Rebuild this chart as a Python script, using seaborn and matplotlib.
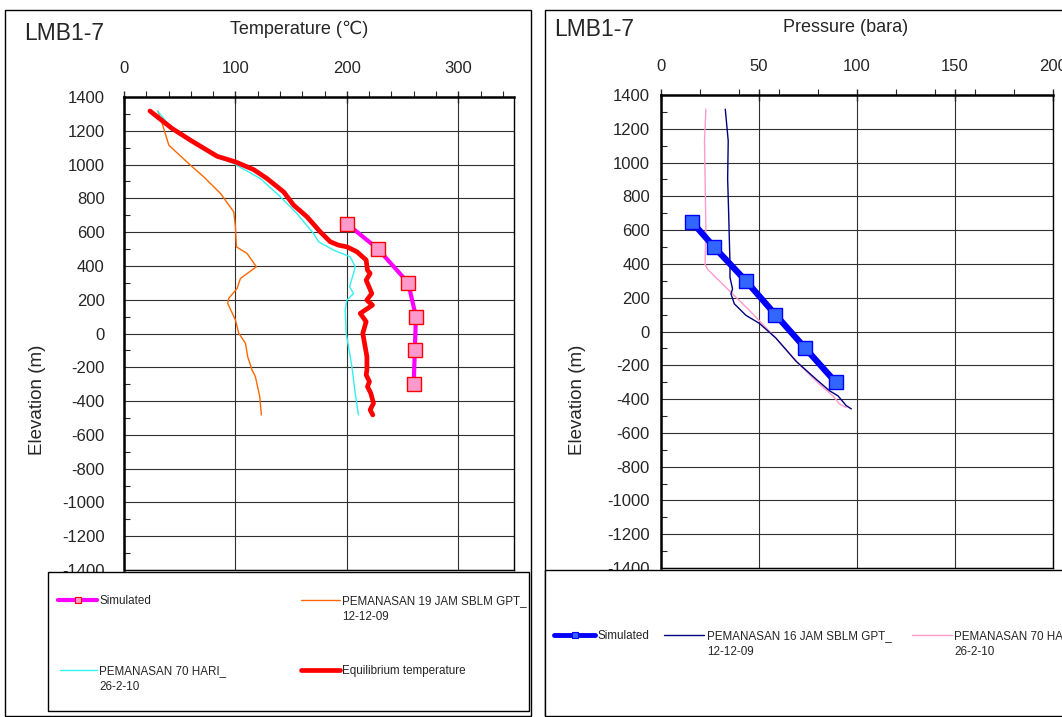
import matplotlib
matplotlib.use("Agg")
import matplotlib.pyplot as plt
import seaborn as sns
from matplotlib.lines import Line2D
from matplotlib.patches import Rectangle
from matplotlib.ticker import MultipleLocator

sns.set_style("white")
plt.rcParams["font.family"] = ["Liberation Sans", "DejaVu Sans"]
plt.rcParams["axes.unicode_minus"] = False

# ---------------- data ----------------
# Temperature panel
sim_t_elev = [650, 500, 300, 100, -100, -300]
sim_t_temp = [200, 228, 255, 262, 261, 260]

eq_elev = [1317, 1213, 1144, 1049, 1016, 970, 917, 838, 760, 691, 602, 543, 523, 513,
           484, 435, 375, 356, 316, 237, 198, 168, 119, 70, 1, -78, -137, -216, -245,
           -285, -314, -354, -413, -452, -482]
eq_temp = [23.3, 43.3, 59.7, 83.6, 100, 116.4, 128.4, 143.3, 152.2, 164.2, 176.1, 185.1,
           192.5, 200, 209, 217.3, 218.5, 220.9, 217.3, 222.4, 217.9, 223, 212, 217.3,
           214.3, 216.4, 218, 218, 217.3, 220.3, 218.5, 221.5, 223.9, 220.9, 223.3]

h70_elev = [1317, 1223, 1144, 1045, 1006, 917, 809, 710, 592, 543, 494, 454, 395, 356,
            277, 237, 198, 139, 1, -137, -196, -354, -482]
h70_temp = [30, 41.8, 59.7, 83.6, 98.5, 122.4, 140.3, 155.2, 170.1, 174.6, 188, 203,
            207.5, 206, 202.4, 206, 200, 198.5, 199.4, 203, 204.5, 207.5, 210.4]

j19_elev = [1317, 1242, 1114, 996, 927, 829, 720, 632, 513, 474, 395, 326, 267, 208,
            178, 80, 1, -58, -137, -216, -255, -373, -482]
j19_temp = [30.4, 34.3, 40.3, 59.7, 71.6, 86.6, 98.5, 100, 100.9, 110.4, 118.8, 104.5,
            101.5, 94, 93.1, 100, 103, 109, 111, 114.9, 117.9, 121.8, 123.3]

# Pressure panel
sim_p_elev = [650, 500, 300, 100, -100, -300]
sim_p_pres = [15.7, 27.1, 43.3, 58.4, 73.7, 89.1]

j16_elev = [1316, 1128, 904, 709, 398, 320, 252, 223, 164, 96, 48, -40, -176, -283,
            -351, -381, -439, -458]
j16_pres = [32.8, 34.3, 34.0, 34.5, 35.2, 35.2, 36.5, 35.7, 37.4, 43.3, 50.2, 58.7,
            68.9, 79.2, 86.0, 90.3, 94.5, 97.1]

p70_elev = [1316, 1128, 904, 612, 398, 369, 300, 223, 125, -40, -196, -313, -381, -429, -449]
p70_pres = [22.9, 22.2, 22.5, 22.9, 22.5, 23.7, 29.7, 36.5, 45.1, 58.7, 70.6, 80.9,
            87.7, 91.1, 94.5]

temp_ticks = [0, 100, 200, 300]
pres_ticks = [0, 50, 100, 150, 200]

# ---------------- figure ----------------
W, H = 1062, 717
fig = plt.figure(figsize=(W / 100, H / 100), dpi=100)


def fx(px):
    return px / W


def fy(py):
    return 1 - py / H


def box(x0, y0, x1, y1, lw=1.0, fc=None, z=0.5):
    fig.add_artist(Rectangle((fx(x0), fy(y1)), fx(x1) - fx(x0), fy(y0) - fy(y1),
                             transform=fig.transFigure, fill=fc is not None,
                             facecolor=fc if fc else "none", edgecolor="black",
                             lw=lw, zorder=z))


# outer panel borders
box(5, 10, 531, 716, lw=1.0, z=-1)
box(545, 10, 1070, 716, lw=1.0, z=-1)

axL = fig.add_axes([fx(124), fy(570), fx(514) - fx(124), fy(97) - fy(570)])
axR = fig.add_axes([fx(661), fy(568), fx(1053) - fx(661), fy(95) - fy(568)])

TFS = 12


def style(ax, xmax, ticks, xminor, ypad):
    ax.set_xlim(0, xmax)
    ax.set_ylim(-1400, 1400)
    ax.set_xticks(ticks)
    ax.xaxis.set_minor_locator(MultipleLocator(xminor))
    ax.yaxis.set_major_locator(MultipleLocator(200))
    ax.yaxis.set_minor_locator(MultipleLocator(100))
    ax.xaxis.tick_top()
    ax.grid(True, which="major", color="#303030", lw=0.8)
    ax.tick_params(axis="x", which="major", direction="inout", length=8, width=1,
                   labelsize=TFS, pad=11, top=True, bottom=False)
    ax.tick_params(axis="x", which="minor", direction="out", length=4, width=0.8,
                   top=True, bottom=False)
    ax.tick_params(axis="y", which="major", direction="in", length=0, labelsize=TFS,
                   pad=ypad, left=True)
    ax.tick_params(axis="y", which="minor", direction="in", length=4, width=0.8, left=True)
    for s in ["left", "top"]:
        ax.spines[s].set_linewidth(1.8)
    for s in ["right", "bottom"]:
        ax.spines[s].set_linewidth(1.0)
    for s in ax.spines.values():
        s.set_color("black")
    ax.set_xlabel("")
    ax.set_ylabel("")


# --- temperature panel ---
sns.lineplot(x=j19_temp, y=j19_elev, sort=False, estimator=None, ax=axL,
             color="#FF6600", lw=1.0)
sns.lineplot(x=h70_temp, y=h70_elev, sort=False, estimator=None, ax=axL,
             color="#33F0F0", lw=1.0)
sns.lineplot(x=eq_temp, y=eq_elev, sort=False, estimator=None, ax=axL,
             color="#FF0000", lw=3.4)
sns.lineplot(x=sim_t_temp, y=sim_t_elev, sort=False, estimator=None, ax=axL,
             color="#FF00FF", lw=3.0, marker="s", markersize=10,
             markerfacecolor="#FF99CC", markeredgecolor="#FF0000", markeredgewidth=1.0)
style(axL, 350, temp_ticks, 20, 14)

# --- pressure panel ---
sns.lineplot(x=p70_pres, y=p70_elev, sort=False, estimator=None, ax=axR,
             color="#FF99CC", lw=1.0)
sns.lineplot(x=j16_pres, y=j16_elev, sort=False, estimator=None, ax=axR,
             color="#000080", lw=1.0)
sns.lineplot(x=sim_p_pres, y=sim_p_elev, sort=False, estimator=None, ax=axR,
             color="#0000FF", lw=4.5, marker="s", markersize=10,
             markerfacecolor="#3366FF", markeredgecolor="#0000FF", markeredgewidth=1.0)
style(axR, 200, pres_ticks, 20, 8)

# titles and labels
fig.text(fx(24), fy(33), "LMB1-7", fontsize=16.5, va="center", ha="left")
fig.text(fx(299), fy(29), "Temperature (℃)", fontsize=13, va="center", ha="center")
fig.text(fx(38), fy(400), "Elevation (m)", fontsize=13.5, va="center", ha="center",
         rotation=90)
fig.text(fx(554), fy(29), "LMB1-7", fontsize=16.5, va="center", ha="left")
fig.text(fx(846), fy(27), "Pressure (bara)", fontsize=13, va="center", ha="center")
fig.text(fx(578), fy(400), "Elevation (m)", fontsize=13.5, va="center", ha="center",
         rotation=90)

# legend boxes
box(48, 572, 529, 711, lw=1.0, fc="white", z=3)
box(545, 570, 1070, 716, lw=1.0, fc="white", z=3)

LFS = 8.4
LFS_PX = LFS * 100 / 72


def entry(handle, label, hx0, hx1, tx, yc, second=None):
    leg = fig.legend(handles=[handle], labels=[label], loc="center left",
                     bbox_to_anchor=(fx(hx0), fy(yc)), frameon=False, fontsize=LFS,
                     borderpad=0, borderaxespad=0,
                     handlelength=(hx1 - hx0) / LFS_PX,
                     handletextpad=(tx - hx1) / LFS_PX)
    leg.set_zorder(4)
    if second:
        fig.text(fx(tx), fy(yc + 16), second, fontsize=LFS, va="center", ha="left",
                 zorder=5)


h_sim_t = Line2D([], [], color="#FF00FF", lw=3.0, marker="s", markersize=4,
                 markerfacecolor="#FF99CC", markeredgecolor="#FF0000", markeredgewidth=0.8)
h_j19 = Line2D([], [], color="#FF6600", lw=1.0)
h_h70 = Line2D([], [], color="#33F0F0", lw=1.0)
h_eq = Line2D([], [], color="#FF0000", lw=3.4, solid_capstyle="round")

entry(h_sim_t, "Simulated", 58, 97, 99, 601)
entry(h_j19, "PEMANASAN 19 JAM SBLM GPT_", 301, 340, 342, 601, "12-12-09")
entry(h_h70, "PEMANASAN 70 HARI_", 60, 97, 99, 671, "26-2-10")
entry(h_eq, "Equilibrium temperature", 301, 340, 342, 671)

h_sim_p = Line2D([], [], color="#0000FF", lw=3.5, marker="s", markersize=4,
                 markerfacecolor="#3366FF", markeredgecolor="#0000FF", markeredgewidth=0.8,
                 solid_capstyle="round")
h_j16 = Line2D([], [], color="#000080", lw=1.0)
h_p70 = Line2D([], [], color="#FF99CC", lw=1.0)

entry(h_sim_p, "Simulated", 554, 595, 597, 636)
entry(h_j16, "PEMANASAN 16 JAM SBLM GPT_", 664, 704, 707, 636, "12-12-09")
entry(h_p70, "PEMANASAN 70 HARI_", 912, 952, 954, 636, "26-2-10")

fig.savefig("out.png", dpi=100)
